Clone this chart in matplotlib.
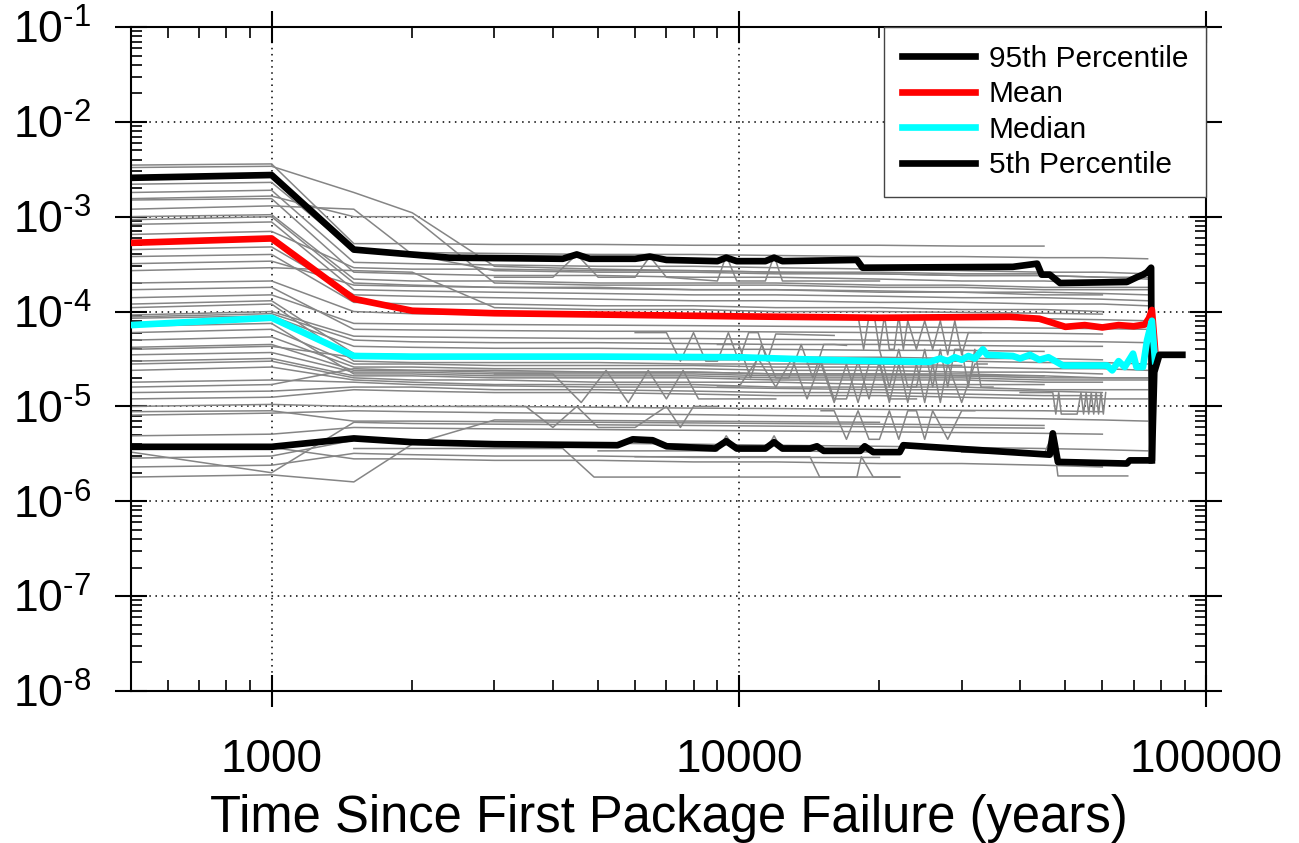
import numpy as np
import matplotlib.pyplot as plt
from matplotlib.ticker import FixedLocator, FuncFormatter, NullFormatter

plt.rcParams['font.family'] = ['Liberation Sans', 'DejaVu Sans']
plt.rcParams['mathtext.fontset'] = 'custom'
plt.rcParams['mathtext.rm'] = 'Liberation Sans'
plt.rcParams['mathtext.it'] = 'Liberation Sans:italic'

nan = np.nan

# --- individual realizations, sampled at common times (nan = run ended) ---
t_grid = [500, 1000, 1500, 2000, 3000, 5000, 8000, 12000, 20000, 30000, 45000, 60000, 75000]
runs = [
    [3.5e-3, 3.6e-3, 5.2e-4, 5.2e-4, 5.1e-4, 5.1e-4, 5.0e-4, 5.0e-4, 5.0e-4, 4.9e-4, 4.9e-4, nan, nan],
    [3.3e-3, 3.4e-3, 1.8e-3, 1.1e-3, 3.0e-4, 2.8e-4, 2.7e-4, 2.6e-4, 2.5e-4, 2.4e-4, 2.4e-4, 2.3e-4, 2.3e-4],
    [2.2e-3, 2.3e-3, 4.4e-4, 4.2e-4, 4.1e-4, 4.0e-4, 4.0e-4, 3.9e-4, 3.8e-4, 3.8e-4, 3.7e-4, 3.7e-4, 3.6e-4],
    [1.8e-3, 1.9e-3, 3.3e-4, 3.2e-4, 3.1e-4, 3.0e-4, 3.0e-4, 2.9e-4, 2.8e-4, 2.7e-4, 2.6e-4, 2.6e-4, 2.5e-4],
    [1.55e-3, 1.65e-3, 1.0e-3, 1.0e-3, 2.0e-4, 1.9e-4, 1.9e-4, 1.9e-4, 1.8e-4, 1.8e-4, 1.7e-4, 1.7e-4, 1.7e-4],
    [1.5e-3, 1.55e-3, 2.6e-4, 2.5e-4, 2.4e-4, 2.4e-4, 2.3e-4, 2.3e-4, 2.2e-4, 2.1e-4, 2.1e-4, 2.0e-4, nan],
    [1.2e-3, 1.3e-3, 1.2e-3, 4.0e-4, 2.7e-4, 2.6e-4, 2.6e-4, 2.5e-4, 2.5e-4, 2.4e-4, 2.4e-4, 2.3e-4, 2.2e-4],
    [1.0e-3, 1.05e-3, 2.2e-4, 2.1e-4, 2.1e-4, 2.0e-4, 2.0e-4, 2.0e-4, 1.9e-4, 1.9e-4, 1.8e-4, 1.8e-4, 1.8e-4],
    [9.3e-4, 1.0e-3, 2.0e-4, 1.9e-4, 1.8e-4, 1.8e-4, 1.7e-4, 1.7e-4, 1.6e-4, 1.6e-4, 1.5e-4, 1.5e-4, nan],
    [8.3e-4, 8.8e-4, 1.7e-4, 1.65e-4, 1.6e-4, 1.55e-4, 1.5e-4, 1.5e-4, 1.45e-4, 1.4e-4, 1.4e-4, 1.35e-4, 1.3e-4],
    [6.5e-4, 7.0e-4, 2.9e-4, 2.8e-4, 2.8e-4, 2.7e-4, 2.7e-4, 2.6e-4, 2.6e-4, 2.5e-4, 2.5e-4, nan, nan],
    [4.5e-4, 4.8e-4, 1.5e-4, 1.45e-4, 1.4e-4, 1.35e-4, 1.3e-4, 1.3e-4, 1.25e-4, 1.25e-4, 1.2e-4, 1.2e-4, 1.15e-4],
    [3.8e-4, 4.0e-4, 1.25e-4, 1.2e-4, 1.2e-4, 1.15e-4, 1.15e-4, 1.1e-4, 1.1e-4, 1.05e-4, 1.05e-4, 1.0e-4, nan],
    [3.2e-4, 3.4e-4, 1.9e-4, 1.85e-4, 1.8e-4, 1.75e-4, 1.7e-4, 1.7e-4, 1.65e-4, 1.6e-4, 1.6e-4, 1.55e-4, 1.5e-4],
    [2.7e-4, 2.9e-4, 2.7e-4, 2.6e-4, 1.1e-4, 1.05e-4, 1.05e-4, 1.0e-4, 1.0e-4, 9.8e-5, 9.6e-5, 9.4e-5, nan],
    [2.0e-4, 2.1e-4, 1.0e-4, 9.5e-5, 9.3e-5, 9.2e-5, 9.0e-5, 8.8e-5, 8.6e-5, 8.5e-5, 8.4e-5, 8.2e-5, 8.0e-5],
    [1.7e-4, 1.8e-4, 6.5e-5, 6.4e-5, 6.3e-5, 6.2e-5, 6.2e-5, 6.1e-5, 6.0e-5, 6.0e-5, 5.9e-5, 5.8e-5, nan],
    [1.4e-4, 1.5e-4, 7.5e-5, 7.4e-5, 7.3e-5, 7.2e-5, 7.1e-5, 7.0e-5, 6.9e-5, 6.8e-5, 6.7e-5, 6.6e-5, 6.5e-5],
    [1.2e-4, 1.3e-4, 3.6e-5, 3.5e-5, 3.5e-5, 3.4e-5, 3.4e-5, 3.3e-5, 3.3e-5, 3.2e-5, 3.2e-5, 3.1e-5, nan],
    [1.1e-4, 1.2e-4, 3.0e-5, 2.9e-5, 2.9e-5, 2.9e-5, 2.8e-5, 2.8e-5, 2.8e-5, 2.7e-5, nan, nan, nan],
    [9.2e-5, 1.0e-4, 5.5e-5, 5.4e-5, 5.3e-5, 5.2e-5, 5.2e-5, 5.1e-5, 5.0e-5, 4.9e-5, 4.9e-5, 4.8e-5, 4.7e-5],
    [8.8e-5, 9.5e-5, 5.0e-5, 4.8e-5, 4.7e-5, 4.7e-5, 4.6e-5, 4.5e-5, 4.5e-5, 4.4e-5, 4.3e-5, 4.3e-5, nan],
    [8.5e-5, 9.0e-5, 4.3e-5, 4.2e-5, 4.1e-5, 4.1e-5, 4.0e-5, 4.0e-5, 3.9e-5, 3.9e-5, 3.8e-5, nan, nan],
    [7.0e-5, 7.5e-5, 2.2e-5, 2.2e-5, 2.1e-5, 2.1e-5, 2.1e-5, 2.0e-5, 2.0e-5, 2.0e-5, 1.9e-5, 1.9e-5, 1.9e-5],
    [6.0e-5, 6.5e-5, 2.8e-5, 2.8e-5, 2.7e-5, 2.7e-5, 2.7e-5, 2.6e-5, 2.6e-5, 2.6e-5, 2.5e-5, 2.5e-5, 2.4e-5],
    [5.0e-5, 5.4e-5, 2.6e-5, 2.6e-5, 2.5e-5, 2.5e-5, 2.5e-5, 2.4e-5, 2.4e-5, 2.3e-5, 2.3e-5, 2.2e-5, nan],
    [4.2e-5, 4.5e-5, 2.4e-5, 2.4e-5, 2.3e-5, 2.3e-5, 2.3e-5, 2.2e-5, 2.2e-5, 2.2e-5, 2.1e-5, nan, nan],
    [4.0e-5, 4.3e-5, 3.3e-5, 3.3e-5, 3.2e-5, 3.2e-5, 3.1e-5, 3.1e-5, 3.0e-5, 3.0e-5, 2.9e-5, 2.9e-5, 2.8e-5],
    [3.5e-5, 3.7e-5, 2.3e-5, 2.3e-5, 2.2e-5, 2.2e-5, 2.2e-5, 2.1e-5, 2.1e-5, 2.1e-5, 2.0e-5, 2.0e-5, 2.0e-5],
    [3.0e-5, 3.2e-5, 2.1e-5, 2.1e-5, 2.0e-5, 2.0e-5, 2.0e-5, 1.9e-5, 1.9e-5, 1.9e-5, 1.8e-5, 1.8e-5, nan],
    [2.8e-5, 3.0e-5, 2.0e-5, 1.9e-5, 1.9e-5, 1.8e-5, 1.8e-5, 1.8e-5, 1.7e-5, 1.7e-5, 1.7e-5, nan, nan],
    [2.4e-5, 2.6e-5, 1.9e-5, 1.8e-5, 1.7e-5, 1.7e-5, 1.7e-5, 1.6e-5, 1.6e-5, 1.6e-5, 1.5e-5, 1.5e-5, 1.5e-5],
    [1.8e-5, 1.9e-5, 1.8e-5, 1.7e-5, 1.65e-5, 1.6e-5, 1.6e-5, 1.55e-5, 1.5e-5, 1.5e-5, 1.45e-5, 1.4e-5, nan],
    [1.6e-5, 1.7e-5, 2.5e-5, 2.4e-5, 2.4e-5, 2.3e-5, 2.3e-5, 2.2e-5, 2.2e-5, 2.1e-5, 2.1e-5, 2.0e-5, 2.0e-5],
    [1.4e-5, 1.45e-5, 1.6e-5, 1.6e-5, 1.5e-5, 1.5e-5, 1.45e-5, 1.4e-5, 1.4e-5, 1.35e-5, 1.3e-5, 1.3e-5, nan],
    [1.2e-5, 1.25e-5, 1.5e-5, 1.45e-5, 1.4e-5, 1.4e-5, 1.35e-5, 1.3e-5, 1.3e-5, 1.25e-5, 1.2e-5, 1.2e-5, 1.2e-5],
    [1.0e-5, 1.05e-5, 1.0e-5, 1.0e-5, 1.0e-5, 9.8e-6, 9.6e-6, 9.5e-6, 9.3e-6, 9.1e-6, 9.0e-6, 8.8e-6, nan],
    [8.8e-6, 9.0e-6, 7.0e-6, 7.0e-6, 6.9e-6, 6.8e-6, 6.7e-6, 6.6e-6, 6.5e-6, 6.4e-6, 6.3e-6, nan, nan],
    [8.1e-6, 8.5e-6, 9.0e-6, 8.8e-6, 8.6e-6, 8.4e-6, 8.2e-6, 8.0e-6, 7.8e-6, 7.6e-6, 7.4e-6, 7.2e-6, 7.0e-6],
    [4.9e-6, 5.1e-6, 6.0e-6, 5.9e-6, 5.8e-6, 5.7e-6, 5.6e-6, 5.5e-6, 5.4e-6, 5.3e-6, 5.2e-6, 5.1e-6, nan],
    [3.3e-6, 2.0e-6, 6.8e-6, 6.6e-6, 6.5e-6, 6.4e-6, 6.3e-6, 6.2e-6, 6.1e-6, 6.0e-6, 5.9e-6, nan, nan],
    [2.85e-6, 3.0e-6, 4.4e-6, 4.3e-6, 4.2e-6, 4.1e-6, 4.0e-6, 3.9e-6, 3.8e-6, 3.7e-6, 3.6e-6, 3.5e-6, 3.4e-6],
    [1.8e-6, 1.9e-6, 1.6e-6, 4.0e-6, 7.2e-6, 7.1e-6, 7.0e-6, 6.9e-6, 6.8e-6, nan, nan, nan, nan],
    [3.6e-6, 3.7e-6, 2.8e-6, 2.8e-6, 2.7e-6, 2.7e-6, 2.6e-6, 2.6e-6, 2.5e-6, 2.5e-6, 2.4e-6, 2.3e-6, nan],
    [2.3e-6, 2.4e-6, 3.2e-6, 3.1e-6, 3.0e-6, 3.0e-6, 2.9e-6, 2.9e-6, 2.9e-6, nan, nan, nan, nan],
]

# --- realizations that flip between two levels (own time stamps) ---
flip_t = [
    [3000, 4000, 4500, 5000, 6000, 6450, 7000, 9000, 9400, 9900, 11400, 11900, 12400, 20000],
    [3000, 4000, 4600, 5200, 5800, 6400, 7000, 7600, 8200, 12000],
    [6000, 7000, 7500, 8000, 8500, 9000, 9500, 10000, 10500, 11000, 11500, 12000, 16000],
    [9000, 10000, 10600, 11200, 12000, 12800, 13600, 14400, 15200, 16000, 17000],
    [9000, 10000, 11000, 12000, 13000, 14000, 15000, 16000, 17000, 18000, 19000, 20000, 21000, 22000, 24000],
    [17000, 18000, 18500, 19000, 19500, 20000, 20500, 21000, 21500, 22000, 22500, 23000, 24000, 25000,
     26000, 27000, 28000, 29000, 30000, 31000, 33000],
    [14000, 15000, 16000, 17000, 18000, 19000, 20000, 21000, 22000, 23000, 24000, 25000, 26000, 27000,
     28000, 30000, 32000, 34000],
    [15000, 16000, 17000, 18000, 19000, 20000, 21000, 22000, 23000, 24000, 25000, 26000, 28000, 30000, 32000],
    [40000, 45000, 47000, 47700, 48400, 49000, 53000, 54000, 54700, 55400, 56100, 56800, 57500, 58200,
     58900, 59600, 60300, 61000],
    [6000, 12000, 14200, 14900, 17900, 18300, 19400, 22100],
    [5000, 9000, 9400, 9900, 11400, 11900, 12400, 20000],
    [30000, 45000, 47000, 48200, 68000],
    [1500, 4200, 4900, 22100],
    [2500, 3500, 4000, 4500, 5000, 6000, 7000, 7500, 8000, 9000],
    [20000, 21000, 22000, 23000, 24000, 25000, 26000, 27000, 28000, 29000, 30000, 31000, 32000, 33000, 35000],
]
flip_v = [
    [2.3e-4, 2.3e-4, 4.0e-4, 2.3e-4, 2.3e-4, 3.8e-4, 2.3e-4, 2.1e-4, 3.9e-4, 2.1e-4, 2.1e-4, 3.9e-4, 2.1e-4, 2.1e-4],
    [2.2e-5, 2.2e-5, 1.1e-5, 2.4e-5, 1.1e-5, 2.4e-5, 1.2e-5, 2.4e-5, 1.2e-5, 1.2e-5],
    [6.0e-5, 6.0e-5, 3.0e-5, 6.0e-5, 3.0e-5, 3.0e-5, 6.0e-5, 3.0e-5, 6.0e-5, 6.0e-5, 3.0e-5, 5.8e-5, 5.6e-5],
    [4.5e-5, 4.5e-5, 2.0e-5, 4.5e-5, 2.0e-5, 2.0e-5, 4.5e-5, 2.0e-5, 4.5e-5, 4.5e-5, 4.4e-5],
    [1.6e-5, 1.6e-5, 3.2e-5, 1.6e-5, 3.2e-5, 1.2e-5, 3.0e-5, 1.2e-5, 1.2e-5, 3.0e-5, 1.2e-5, 3.0e-5, 1.2e-5,
     1.2e-5, 1.2e-5],
    [9.0e-5, 9.0e-5, 4.0e-5, 9.0e-5, 9.0e-5, 4.0e-5, 9.0e-5, 4.0e-5, 4.0e-5, 9.0e-5, 4.0e-5, 8.0e-5, 4.0e-5,
     8.0e-5, 4.0e-5, 8.0e-5, 3.5e-5, 8.0e-5, 3.5e-5, 6.0e-5, 6.0e-5],
    [2.8e-5, 2.8e-5, 1.1e-5, 2.8e-5, 1.1e-5, 2.8e-5, 2.8e-5, 1.1e-5, 2.8e-5, 1.1e-5, 2.8e-5, 1.1e-5, 2.8e-5,
     1.1e-5, 2.8e-5, 1.1e-5, 2.8e-5, 2.8e-5],
    [9.0e-6, 9.0e-6, 4.5e-6, 9.0e-6, 4.5e-6, 4.5e-6, 9.0e-6, 4.5e-6, 9.0e-6, 9.0e-6, 4.5e-6, 9.0e-6, 4.5e-6,
     9.0e-6, 9.0e-6],
    [1.4e-5, 1.4e-5, 1.4e-5, 8.3e-6, 1.4e-5, 8.3e-6, 8.3e-6, 1.4e-5, 8.3e-6, 1.4e-5, 8.3e-6, 1.4e-5, 8.3e-6,
     1.4e-5, 8.3e-6, 1.4e-5, 8.3e-6, 1.4e-5],
    [2.95e-6, 2.95e-6, 2.95e-6, 1.8e-6, 1.8e-6, 2.95e-6, 1.8e-6, 1.8e-6],
    [3.4e-6, 3.4e-6, 4.9e-6, 3.4e-6, 3.4e-6, 4.9e-6, 3.4e-6, 3.3e-6],
    [3.3e-6, 3.1e-6, 5.2e-6, 1.85e-6, 1.85e-6],
    [3.6e-6, 3.6e-6, 1.8e-6, 1.8e-6],
    [1.0e-5, 1.0e-5, 6.0e-6, 1.0e-5, 6.0e-6, 6.0e-6, 1.0e-5, 6.0e-6, 1.0e-5, 1.0e-5],
    [4.0e-5, 1.6e-5, 4.0e-5, 1.6e-5, 1.6e-5, 4.0e-5, 1.6e-5, 4.0e-5, 1.6e-5, 4.0e-5, 4.0e-5, 1.6e-5, 4.0e-5,
     1.6e-5, 1.6e-5],
]

# --- statistics ---
p95_t = [500, 1000, 1500, 2400, 4200, 4500, 4800, 6000, 6450, 7000, 9000, 9400, 9900, 11400, 11900,
         12400, 17900, 18400, 38600, 43500, 44500, 46300, 48700, 67700, 71100, 73300, 74800, 76300, 76600]
p95_v = [2.57e-3, 2.75e-3, 4.5e-4, 3.7e-4, 3.6e-4, 4.0e-4, 3.6e-4, 3.6e-4, 3.8e-4, 3.5e-4, 3.4e-4, 3.7e-4,
         3.4e-4, 3.4e-4, 3.7e-4, 3.4e-4, 3.5e-4, 2.9e-4, 2.96e-4, 3.2e-4, 2.45e-4, 2.45e-4, 2.0e-4, 2.05e-4,
         2.3e-4, 2.45e-4, 2.6e-4, 2.9e-4, 2.7e-6]

mean_t = [500, 1000, 1500, 2000, 3000, 5000, 10000, 20000, 38000, 44000, 47000, 50000, 55000, 60000,
          65000, 70000, 74000, 75500, 76600, 77800]
mean_v = [5.3e-4, 5.9e-4, 1.36e-4, 1.02e-4, 9.6e-5, 9.3e-5, 8.9e-5, 8.6e-5, 8.8e-5, 8.4e-5, 7.6e-5, 6.9e-5,
          7.2e-5, 6.8e-5, 7.2e-5, 7.0e-5, 7.3e-5, 8.5e-5, 1.04e-4, 4.0e-5]

med_t = [500, 1000, 1500, 2000, 5000, 10000, 15000, 20000, 25600, 27000, 28000, 29000, 30000, 31000,
         32000, 33300, 34000, 38600, 40000, 42000, 44000, 46000, 49400, 55000, 61400, 63000, 65000, 67000,
         69800, 71000, 73300, 74800, 76600, 77800]
med_v = [7.2e-5, 8.6e-5, 3.4e-5, 3.35e-5, 3.35e-5, 3.3e-5, 3.1e-5, 3.0e-5, 2.95e-5, 3.2e-5, 3.0e-5, 3.3e-5,
         3.1e-5, 3.4e-5, 3.2e-5, 4.0e-5, 3.5e-5, 3.4e-5, 3.2e-5, 3.5e-5, 3.1e-5, 3.3e-5, 2.7e-5, 2.7e-5,
         2.7e-5, 2.4e-5, 3.0e-5, 2.6e-5, 3.6e-5, 2.6e-5, 2.6e-5, 5.0e-5, 8.0e-5, 3.0e-5]

p05_t = [500, 1000, 1500, 2000, 3000, 5500, 5930, 6540, 7010, 8900, 9400, 9900, 11400, 11900, 12400,
         14200, 14700, 15200, 18200, 18600, 19400, 22100, 22500, 46300, 47000, 48200, 67700, 68700, 76000,
         76600, 77500, 79500, 89000]
p05_v = [3.75e-6, 3.75e-6, 4.6e-6, 4.2e-6, 4.0e-6, 3.9e-6, 4.5e-6, 4.4e-6, 3.8e-6, 3.6e-6, 4.3e-6, 3.6e-6,
         3.6e-6, 4.2e-6, 3.6e-6, 3.6e-6, 3.8e-6, 3.4e-6, 3.4e-6, 3.8e-6, 3.3e-6, 3.3e-6, 3.9e-6, 3.1e-6,
         5.2e-6, 2.6e-6, 2.5e-6, 2.7e-6, 2.7e-6, 2.7e-6, 2.3e-5, 3.5e-5, 3.5e-5]

y_ticks = [1e-8, 1e-7, 1e-6, 1e-5, 1e-4, 1e-3, 1e-2, 1e-1]
x_ticks = [1000, 10000, 100000]

fig = plt.figure(figsize=(12.99, 8.43), dpi=100)
ax = fig.add_axes([0.1008, 0.1803, 0.8276, 0.7877])

gray = '#858585'
for vals in runs:
    ax.plot(t_grid, vals, color=gray, lw=1.1, zorder=2)
for tt, vv in zip(flip_t, flip_v):
    ax.plot(tt, vv, color=gray, lw=1.1, zorder=2)

ax.plot(p95_t, p95_v, color='black', lw=4.8, label='95th Percentile', zorder=4)
ax.plot(mean_t, mean_v, color='red', lw=4.8, label='Mean', zorder=4)
ax.plot(med_t, med_v, color='cyan', lw=4.8, label='Median', zorder=4)
ax.plot(p05_t, p05_v, color='black', lw=4.8, label='5th Percentile', zorder=4)

ax.set_xscale('log')
ax.set_yscale('log')
ax.set_xlim(500, 100000)
ax.set_ylim(1e-8, 1e-1)

ax.xaxis.set_major_locator(FixedLocator(x_ticks))
ax.xaxis.set_major_formatter(FuncFormatter(lambda v, p: '%d' % v))
ax.xaxis.set_minor_locator(FixedLocator([600, 700, 800, 900] + [k * 1000 for k in range(2, 10)]
                                        + [k * 10000 for k in range(2, 10)]))
ax.xaxis.set_minor_formatter(NullFormatter())
ax.yaxis.set_major_locator(FixedLocator(y_ticks))
ax.yaxis.set_major_formatter(FuncFormatter(
    lambda v, p: r'$\mathregular{10^{\text{-}%d}}$' % round(-np.log10(v))))
ax.yaxis.set_minor_locator(FixedLocator([k * d for d in y_ticks[:-1] for k in range(2, 10)]))
ax.yaxis.set_minor_formatter(NullFormatter())

ax.tick_params(which='major', direction='inout', length=23, width=1.5, top=True, right=True)
ax.tick_params(which='minor', direction='in', length=8, width=1.2, top=True, right=True)
ax.tick_params(axis='x', which='major', labelsize=33, pad=22)
ax.tick_params(axis='y', which='major', labelsize=32, pad=17)
for s in ax.spines.values():
    s.set_linewidth(1.5)

ax.grid(which='major', color='black', linestyle=(0, (1, 3)), linewidth=1.1, zorder=1)

ax.set_xlabel('Time Since First Package Failure (years)', fontsize=36.5, labelpad=9)

leg = ax.legend(loc='upper right', bbox_to_anchor=(1, 1), borderaxespad=0, fontsize=21.5,
                handlelength=2.45, handletextpad=0.45, borderpad=0.6, labelspacing=0.25,
                fancybox=False, framealpha=1, edgecolor='#444444')
leg.get_frame().set_linewidth(1.0)
leg.set_zorder(5)

fig.savefig('out.png', dpi=100)
